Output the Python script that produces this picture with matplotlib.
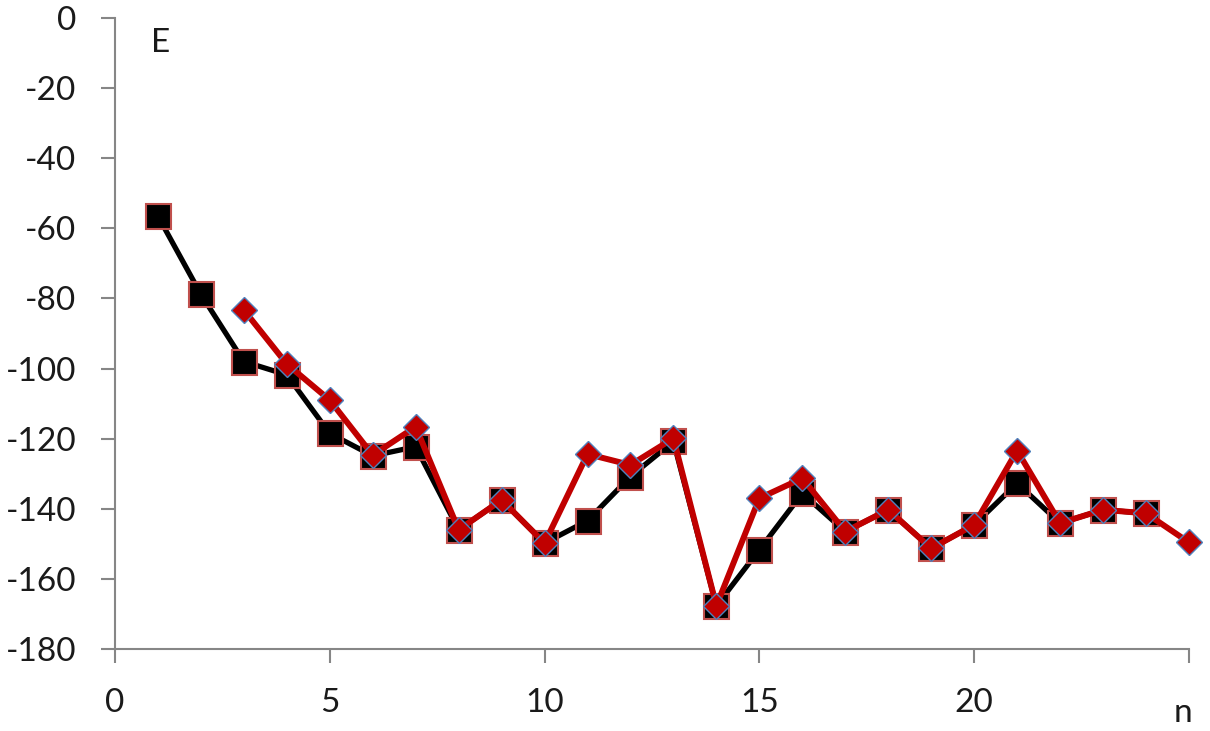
import matplotlib
matplotlib.use("Agg")
import matplotlib.pyplot as plt

# black series (squares), n = 1..24
n_black = list(range(1, 25))
e_black = [-56.5, -78.8, -98.0, -101.8, -118.5, -124.9, -122.3, -146.0,
           -137.5, -149.8, -143.4, -130.8, -120.8, -167.7, -151.7, -135.6,
           -146.5, -140.3, -151.3, -144.6, -132.7, -144.1, -140.3, -141.3]

# red series (diamonds), n = 3..25
n_red = list(range(3, 26))
e_red = [-83.3, -98.7, -109.0, -124.7, -116.6, -146.0, -137.5, -149.8,
         -124.4, -127.5, -119.9, -167.7, -137.0, -131.3, -146.5, -140.3,
         -151.3, -144.6, -123.4, -144.1, -140.3, -141.3, -149.6]

x_ticks = [0, 5, 10, 15, 20, 25]
x_labels = ["0", "5", "10", "15", "20", ""]
y_ticks = list(range(0, -181, -20))

plt.rcParams["font.family"] = ["Lato", "DejaVu Sans"]
plt.rcParams["axes.unicode_minus"] = False

fig = plt.figure(figsize=(12.1, 7.31), dpi=100)
ax = fig.add_axes([0.095, 0.1122, 0.8876, 0.8632])

ax.plot(n_black, e_black, color="black", lw=3.8, marker="s", ms=18,
        mfc="black", mec="#c0504d", mew=1.5, zorder=2, clip_on=False)
ax.plot(n_red, e_red, color="#c00000", lw=4.3, marker="D", ms=13,
        mfc="#c00000", mec="#4f81bd", mew=1.0, zorder=3, clip_on=False)

ax.set_xlim(0, 25)
ax.set_ylim(-180, 0)
ax.set_xticks(x_ticks)
ax.set_xticklabels(x_labels)
ax.set_yticks(y_ticks)

gray = "#868686"
for side in ("top", "right"):
    ax.spines[side].set_visible(False)
for side in ("left", "bottom"):
    ax.spines[side].set_color(gray)
    ax.spines[side].set_linewidth(1.5)
    ax.spines[side].set_zorder(1)
ax.tick_params(axis="both", direction="out", length=10, width=1.5,
               color=gray, labelsize=24, labelcolor="#1a1a1a", pad=18)

ax.text(1.07, -7.0, "E", fontsize=24, ha="center", va="center", color="#1a1a1a")
ax.text(24.86, -198.2, "n", fontsize=24, ha="center", va="center",
        color="#1a1a1a", clip_on=False)

fig.savefig("out.png", dpi=100)
